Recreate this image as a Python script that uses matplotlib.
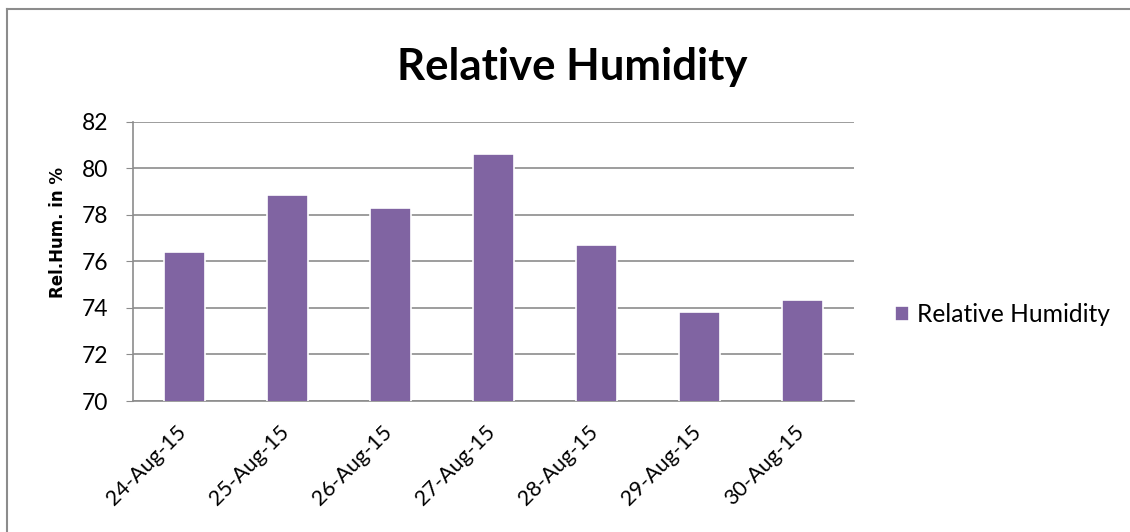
import matplotlib
matplotlib.use("Agg")
import matplotlib.pyplot as plt
import matplotlib.transforms as mtransforms
from matplotlib.lines import Line2D

dates = ["24-Aug-15", "25-Aug-15", "26-Aug-15", "27-Aug-15", "28-Aug-15", "29-Aug-15", "30-Aug-15"]
humidity = [76.4, 78.85, 78.3, 80.6, 76.7, 73.83, 74.35]
yticks = [70, 72, 74, 76, 78, 80, 82]

plt.rcParams['font.family'] = ['Lato', 'DejaVu Sans']

W, H = 1130, 532
fig = plt.figure(figsize=(W / 100, H / 100), dpi=100)
# chart-area border (top and left edges visible in the reference)
fig.add_artist(Line2D([7 / W, 1.0], [(H - 9) / H, (H - 9) / H], transform=fig.transFigure,
                      color='#8c8c8c', linewidth=1.5))
fig.add_artist(Line2D([7 / W, 7 / W], [0.0, (H - 9) / H], transform=fig.transFigure,
                      color='#8c8c8c', linewidth=1.5))

ax = fig.add_axes([133 / W, 131 / H, (854 - 133) / W, (401 - 121.7) / H])

x = list(range(len(dates)))
ax.bar(x, humidity, width=0.39, color='#8064A2', edgecolor='white', linewidth=1.2,
       label='Relative Humidity', zorder=3)
ax.set_xlim(-0.5, len(dates) - 0.5)
ax.set_ylim(70, 82)
ax.set_yticks(yticks)
ax.set_yticklabels([str(t) for t in yticks], fontsize=16.5)
ax.set_xticks(x)
ax.set_xticklabels(dates, rotation=45, ha='right', rotation_mode='anchor', fontsize=15.5)
ax.tick_params(axis='x', length=0, pad=15)
ax.tick_params(axis='y', length=5, color='#8c8c8c', pad=13)
offset = mtransforms.ScaledTranslation(-6 / 72, 0, fig.dpi_scale_trans)
for lbl in ax.get_xticklabels():
    lbl.set_transform(lbl.get_transform() + offset)
ax.grid(axis='y', color='#8c8c8c', linewidth=1.2, zorder=0)
for s in ['top', 'right']:
    ax.spines[s].set_visible(False)
for s in ['left', 'bottom']:
    ax.spines[s].set_color('#8c8c8c')
    ax.spines[s].set_linewidth(1.2)
ax.set_ylabel('Rel.Hum. in %', fontsize=12, fontweight='bold', family=['DejaVu Sans'])
ax.yaxis.set_label_coords(67 / W, (H - 233) / H, transform=fig.transFigure)

fig.text(572 / W, (H - 80) / H, 'Relative Humidity', ha='center', va='baseline',
         fontsize=31.5, fontweight='bold')

leg = ax.legend(loc='center left', bbox_to_anchor=(873 / W, (H - 315) / H),
                bbox_transform=fig.transFigure, frameon=False, fontsize=17.7,
                handlelength=0.55, handleheight=0.55, handletextpad=0.35)

fig.savefig('out.png', dpi=100)
